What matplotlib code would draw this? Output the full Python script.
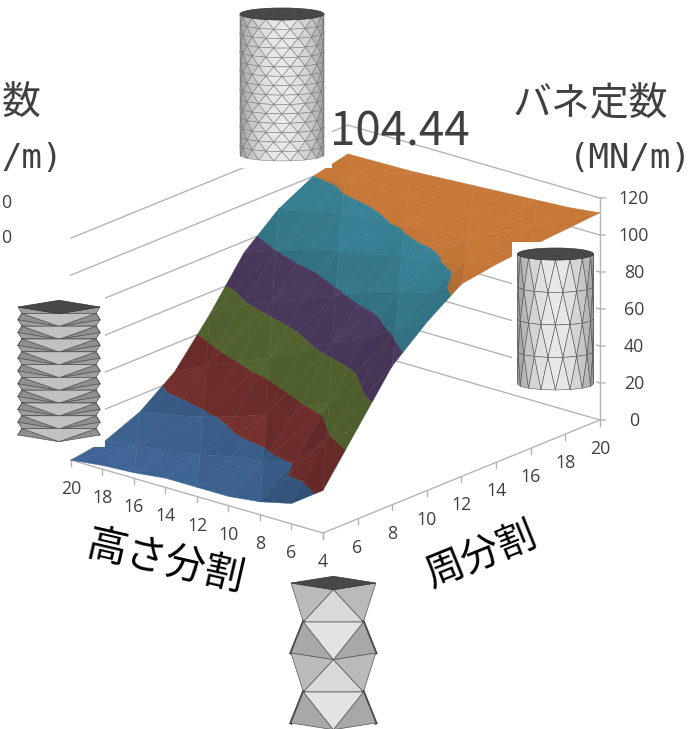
import numpy as np
import matplotlib
matplotlib.use("Agg")
import matplotlib.pyplot as plt
from mpl_toolkits.mplot3d import proj3d
from mpl_toolkits.mplot3d.art3d import Poly3DCollection
from matplotlib.patches import Ellipse, Rectangle, Polygon

plt.rcParams['font.family'] = ['Noto Sans CJK JP', 'DejaVu Sans']

# circumference divisions (x), height divisions (y), spring constant (MN/m)
circ = [4, 6, 8, 10, 12, 14, 16, 18, 20]
height = [4, 6, 8, 10, 12, 14, 16, 18, 20]
spring = [
    [23, 49, 75, 91, 104, 107, 109, 110.5, 112],
    [11, 38, 60, 82, 95, 103, 105.5, 107.5, 110],
    [7, 21, 45, 72, 90, 99, 104, 106.5, 109],
    [5, 16, 38, 65, 85, 97, 103, 105.5, 108],
    [5, 14, 29, 56, 78, 93, 101, 104.5, 107],
    [5, 10, 23, 47, 71, 90, 99, 103.5, 106],
    [3, 7, 18, 40, 65, 86, 97.5, 102.5, 105],
    [2, 5, 14, 33, 58, 80, 94, 101.5, 104.7],
    [0, 3, 11, 25, 48, 74, 90, 100, 104.44],
]
z_ticks = [0, 20, 40, 60, 80, 100, 120]
band_colors = ["#4F81BD", "#C0504D", "#9BBB59", "#8064A2", "#4BACC6", "#F79646"]
band_gain = [1.0, 0.85, 0.8, 0.85, 0.97, 1.02]

BOX = np.array([430., 329.5, 236.4])
GREY = "#b5b5b5"
TXT = "#404040"


def clip_band(tri, lo, hi):
    # cut a polygon down to lo <= z <= hi
    poly = list(tri)
    for limit, sign in ((lo, 1), (hi, -1)):
        out = []
        for k in range(len(poly)):
            p, q = np.array(poly[k]), np.array(poly[(k + 1) % len(poly)])
            dp, dq = sign * (p[2] - limit), sign * (q[2] - limit)
            if dp >= 0:
                out.append(p)
            if dp * dq < 0:
                out.append(p + (q - p) * dp / (dp - dq))
        poly = out
        if not poly:
            break
    return poly


def shade(tri):
    scale = BOX / np.array([16., 16., 120.])
    a, b, c = [np.array(p) * scale for p in tri]
    n = np.cross(b - a, c - a)
    n = n / np.linalg.norm(n)
    if n[2] < 0:
        n = -n
    light = np.array([0.22, -0.30, 0.93])
    return 0.50 + 0.33 * max(n @ light, 0)


fig = plt.figure(figsize=(6.93, 7.29), dpi=100)
S = 700
ax = fig.add_axes([-24 / 693, 40.5 / 729, S / 693, S / 729], projection='3d', computed_zorder=False)
ax.set_proj_type('ortho')
ax.view_init(elev=20.1, azim=-139.9)
ax.set_box_aspect(BOX, zoom=573.7 / S)
ax.set_xlim(4, 20, view_margin=0)
ax.set_ylim(4, 20, view_margin=0)
ax.set_zlim(0, 120, view_margin=0)
ax.set_axis_off()
M = ax.get_proj()


def tick_label(x, y, z, s, dx, dy):
    x2, y2, _ = proj3d.proj_transform(x, y, z, M)
    ax.annotate(s, xy=(x2, y2), xytext=(dx, dy), textcoords='offset pixels', color=TXT, fontsize=12.8,
                family='Open Sans', ha='center', va='center', annotation_clip=False)


# walls
for z in z_ticks:
    ax.plot([4, 20], [20, 20], [z, z], color=GREY, lw=1, zorder=1)
    ax.plot([20, 20], [4, 20], [z, z], color=GREY, lw=1, zorder=1)
    ax.plot([20, 20.3], [4, 4], [z, z - 1.1], color=GREY, lw=1, zorder=1)
    tick_label(20, 4, z, str(z), 34, -1)
ax.plot([20, 20], [4, 4], [0, 120], color=GREY, lw=1, zorder=1)

# floor axes
ax.plot([4, 20], [4, 4], [0, 0], color=GREY, lw=1, zorder=1)
ax.plot([4, 4], [4, 20], [0, 0], color=GREY, lw=1, zorder=1)
for c in circ:
    ax.plot([c, c], [4, 4], [0, -3], color=GREY, lw=1, zorder=1)
    if c > 4:
        tick_label(c, 4, 0, str(c), 0, -29)
for h in height:
    ax.plot([4, 4], [h, h], [0, -3], color=GREY, lw=1, zorder=1)
    tick_label(4, h, 0, str(h), 0, -29)

# surface, split into triangles and cut along the bands
Z = np.array(spring, dtype=float)
polys, cols = [], []
for i in range(len(height) - 1):
    for j in range(len(circ) - 1):
        p00 = (circ[j], height[i], Z[i, j])
        p01 = (circ[j + 1], height[i], Z[i, j + 1])
        p10 = (circ[j], height[i + 1], Z[i + 1, j])
        p11 = (circ[j + 1], height[i + 1], Z[i + 1, j + 1])
        if (i + j) % 2 == 0:
            tris = [(p00, p01, p11), (p00, p11, p10)]
        else:
            tris = [(p00, p01, p10), (p01, p11, p10)]
        for tri in tris:
            f = shade(tri)
            for b, base in enumerate(band_colors):
                part = clip_band(tri, z_ticks[b], z_ticks[b + 1])
                if len(part) >= 3:
                    polys.append([tuple(v) for v in part])
                    rgb = np.array(matplotlib.colors.to_rgb(base)) * f * band_gain[b]
                    cols.append(tuple(np.clip(rgb, 0, 1)))
surf = Poly3DCollection(polys, facecolors=cols, edgecolors=cols, linewidths=0.3, zsort='average', zorder=2)
ax.add_collection3d(surf)
ax.set_xlim(4, 20, view_margin=0)
ax.set_ylim(4, 20, view_margin=0)
ax.set_zlim(0, 120, view_margin=0)

# overlay in pixel coordinates for the pasted pictures and the big labels
ov = fig.add_axes([0, 0, 1, 1], zorder=5)
ov.set_xlim(0, 693)
ov.set_ylim(729, 0)
ov.set_axis_off()
ov.patch.set_alpha(0)


def cylinder(cx, ytop, ybot, rx, ry, ncol, nrow, lw, edge):
    ov.add_patch(Rectangle((cx - rx, ytop), 2 * rx, ybot - ytop, fc="#cccccc", ec="none", zorder=6))
    step = 2 * np.pi / ncol
    rows = np.linspace(ytop, ybot, nrow + 1)
    for r in range(nrow):
        off = step / 2 * (r % 2)
        for k in range(-1, ncol // 2 + 1):
            t0 = np.pi - k * step - off
            t1 = t0 - step
            tm = t0 - step / 2
            tris = [([t0, t1, tm], [rows[r], rows[r], rows[r + 1]]),
                    ([t1, tm, tm - step], [rows[r], rows[r + 1], rows[r + 1]])]
            for ts, ys in tris:
                ts = np.clip(ts, 0, np.pi)
                if ts.max() - ts.min() < 1e-6:
                    continue
                xy = np.column_stack([cx + rx * np.cos(ts), np.array(ys) + ry * np.sin(ts)])
                g = 0.58 + 0.33 * np.sin(ts.mean()) ** 1.5
                ov.add_patch(Polygon(xy, fc=(g, g, g), ec=edge, lw=lw, zorder=6))
    ov.add_patch(Ellipse((cx, ytop), 2 * rx, 2 * ry, fc="#484848", ec="#333333", lw=0.5, zorder=7))


def folded(cx, ytop, rx, ry, waist, layers, sliver, gain):
    c = lambda g: (g * gain, g * gain, g * gain)
    y = ytop
    for n, layer in enumerate(layers):
        y0, y1 = y, y + layer
        if n % 2 == 0:
            L, F, R = (cx - rx, y0), (cx, y0 + ry), (cx + rx, y0)
            l, r = (cx - waist, y1), (cx + waist, y1)
            faces = [((L, F, l), 0.73), ((R, F, r), 0.73), ((F, l, r), 0.85)]
        else:
            l, r = (cx - waist, y0), (cx + waist, y0)
            L, F, R = (cx - rx, y1), (cx, y1 + ry), (cx + rx, y1)
            faces = [((l, L, F), 0.66), ((r, R, F), 0.66), ((l, r, F), 0.89)]
            ov.plot([l[0], L[0]], [l[1], L[1]], color="#444444", lw=sliver, zorder=6)
            ov.plot([r[0], R[0]], [r[1], R[1]], color="#444444", lw=sliver, zorder=6)
        for xy, g in faces:
            ov.add_patch(Polygon(xy, fc=c(g), ec="#555555", lw=0.5, zorder=6))
        y = y1
    cap = [(cx - rx, ytop), (cx, ytop - ry), (cx + rx, ytop), (cx, ytop + ry)]
    ov.add_patch(Polygon(cap, fc="#484848", ec="#333333", lw=0.5, zorder=7))


# white boxes behind the pictures
ov.add_patch(Rectangle((232, 0), 100, 168, fc="white", ec="none", zorder=5))
ov.add_patch(Rectangle((512, 242), 84, 148, fc="white", ec="none", zorder=5))
ov.add_patch(Rectangle((0, 285), 105, 162, fc="white", ec="none", zorder=5))
ov.add_patch(Rectangle((283, 570), 100, 159, fc="white", ec="none", zorder=5))

cylinder(282, 14, 155, 42, 6, 16, 15, 0.35, "#777777")
cylinder(555.5, 254, 384, 38, 6, 16, 4, 0.4, "#555555")
folded(59, 307, 41, 6.7, 37, [6.4] * 20, 0.8, 0.85)
folded(333.4, 583, 42.4, 6.7, 30, [39, 31, 39, 31], 2.2, 1.0)

# big labels
ov.text(590, 104, "バネ定数", fontsize=28, color=TXT, ha='center', va='center')
ov.text(630, 158, "(MN/m)", fontsize=24.5, color=TXT, family='DejaVu Sans Mono', ha='center', va='center')
ov.text(400, 132, "104.44", fontsize=33, color=TXT, ha='center', va='center')
ov.text(21, 104, "数", fontsize=28, color=TXT, ha='center', va='center')
ov.text(32, 158, "/m)", fontsize=24.5, color=TXT, family='DejaVu Sans Mono', ha='center', va='center')
ov.text(11, 203, "0", fontsize=12.8, color=TXT, family='Open Sans', ha='right', va='center')
ov.text(11, 238, "0", fontsize=12.8, color=TXT, family='Open Sans', ha='right', va='center')
ov.text(165, 563, "高さ分割", fontsize=29, color="black", rotation=-13, ha='center', va='center')
ov.text(481, 555, "周分割", fontsize=28, color="black", rotation=22, ha='center', va='center')

fig.savefig("out.png", dpi=100)
